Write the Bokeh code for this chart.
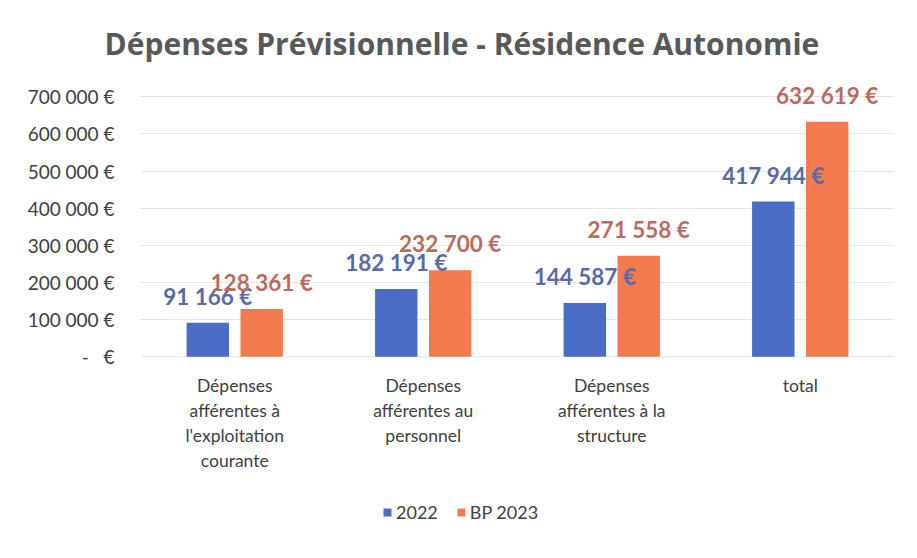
from bokeh.plotting import figure
from bokeh.models import ColumnDataSource, FactorRange, FixedTicker, Legend, LegendItem, Title, Range1d
from bokeh.transform import dodge
from bokeh.core.properties import value
from bokeh.embed import file_html
from bokeh.resources import INLINE

categories = ["Dépenses\nafférentes à\nl'exploitation\ncourante",
              "Dépenses\nafférentes au\npersonnel",
              "Dépenses\nafférentes à la\nstructure",
              "total"]
values_2022 = [91166, 182191, 144587, 417944]
values_2023 = [128361, 232700, 271558, 632619]
series_names = ["2022", "BP 2023"]
y_ticks = [0, 100000, 200000, 300000, 400000, 500000, 600000, 700000]

def fmt(v):
    return f"{v:,.0f}".replace(",", " ") + " €"

src = ColumnDataSource(dict(
    cat=categories,
    zero=[0] * len(categories),
    v22=values_2022,
    v23=values_2023,
    l22=[fmt(v) for v in values_2022],
    l23=[fmt(v) for v in values_2023],
))

FONT = "Lato"
BLUE = "#4a6cc4"
ORANGE = "#f27a4e"
BLUE_LBL = "#5a6aa8"
ORANGE_LBL = "#bd6a5e"

p = figure(x_range=FactorRange(*categories, range_padding=0),
           y_range=Range1d(-495000, 760000),
           width=900, height=542, output_backend="svg", toolbar_location=None,
           min_border_left=140, min_border_right=6, min_border_top=74, min_border_bottom=2)
p.x_range.range_padding = 0
p.outline_line_color = None
p.background_fill_color = "white"
p.border_fill_color = "white"

t = Title(text="Dépenses Prévisionnelle - Résidence Autonomie", align="left",
          text_font="Open Sans", text_font_size="30px", text_font_style="bold",
          text_color="#595959", offset=-36, standoff=22)
p.add_layout(t, "above")

xb = dodge("cat", -0.143, range=p.x_range)
xo = dodge("cat", 0.143, range=p.x_range)
r1 = p.vbar(x=xb, top="v22", width=0.225, source=src, color=BLUE, line_color=None)
r2 = p.vbar(x=xo, top="v23", width=0.225, source=src, color=ORANGE, line_color=None)
p.text(x=xb, y="v22", text="l22", source=src,
       text_align="center", text_baseline="bottom", y_offset=-13,
       text_font=value(FONT), text_font_style="bold", text_font_size="22.5px",
       text_color=BLUE_LBL)
p.text(x=xo, y="v23", text="l23", source=src,
       text_align="center", text_baseline="bottom", y_offset=-13,
       text_font=value(FONT), text_font_style="bold", text_font_size="22.5px",
       text_color=ORANGE_LBL)

# category labels under the baseline
p.text(x="cat", y="zero", text="cat", source=src,
       text_align="center", text_baseline="top", y_offset=18, text_line_height=1.2,
       text_font=value(FONT), text_font_size="17.5px", text_color="#404040")

p.yaxis.ticker = FixedTicker(ticks=y_ticks)
p.yaxis.major_label_overrides = {v: (fmt(v) if v else "-\u00a0\u00a0\u00a0€") for v in y_ticks}
p.yaxis.axis_line_color = None
p.yaxis.major_tick_line_color = None
p.yaxis.minor_tick_line_color = None
p.yaxis.major_label_standoff = 20
p.yaxis.major_label_text_font = FONT
p.yaxis.major_label_text_font_size = "19px"
p.yaxis.major_label_text_color = "#404040"

p.xaxis.visible = False

p.xgrid.grid_line_color = None
p.ygrid.ticker = FixedTicker(ticks=y_ticks)
p.ygrid.grid_line_color = "#e4e4e4"

legend = Legend(items=[LegendItem(label=series_names[0], renderers=[r1]),
                       LegendItem(label=series_names[1], renderers=[r2])],
                orientation="horizontal", location=(242, 17),
                label_text_font=FONT, label_text_font_size="18px", label_text_color="#404040",
                glyph_width=10, glyph_height=10, spacing=18, label_standoff=4,
                border_line_color=None, background_fill_alpha=0, margin=0, padding=4)
p.add_layout(legend, "center")

open("out.html", "w").write(file_html(p, INLINE))
